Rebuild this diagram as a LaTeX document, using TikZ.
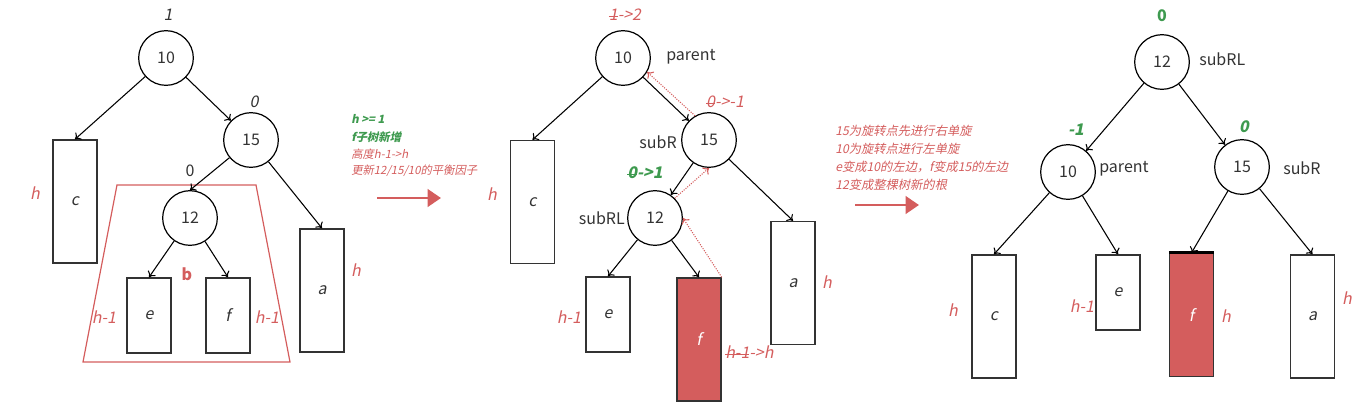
\documentclass[tikz,border=0pt]{standalone}
\usepackage{fontspec}
\setmainfont{Noto Sans CJK SC}
\newfontfamily\itf[FakeSlant=0.2]{Noto Sans CJK SC}
\usetikzlibrary{arrows.meta}
\newcommand\stk[1]{\setbox0\hbox{#1}\rlap{\rule[0.42ex]{\wd0}{0.7pt}}\box0}
\definecolor{myred}{HTML}{D45D5D}
\definecolor{mygreen}{HTML}{3E9A4F}
\definecolor{ink}{HTML}{333333}
\tikzset{
  num/.style={circle, draw=black, line width=0.9pt, minimum size=41pt, inner sep=0pt, text=ink, font=\fontsize{12}{14}\selectfont},
  sub/.style={draw=ink, line width=1.1pt, minimum width=33pt, inner sep=0pt, text=ink, font=\itf\fontsize{12}{14}\selectfont},
  tall/.style={sub, minimum height=92.25pt},
  short/.style={sub, minimum height=56.25pt},
  tallred/.style={tall, fill=myred, text=white},
  lbl/.style={text=myred, inner sep=0pt, font=\itf\fontsize{12}{14}\selectfont},
  bal/.style={text=ink, inner sep=0pt, font=\itf\fontsize{12}{14}\selectfont},
  gbal/.style={text=mygreen, inner sep=0pt, font=\itf\bfseries\fontsize{12}{14}\selectfont},
  tag/.style={text=ink, inner sep=0pt, font=\fontsize{12}{14}\selectfont},
  lnk/.style={-{To[length=4pt,width=7pt]}, line width=0.8pt, black},
  dotarr/.style={-{To[length=4pt,width=7pt]}, line width=0.8pt, myred, densely dotted},
  big/.style={-{Triangle[length=10pt,width=13pt]}, line width=2.2pt, myred},
  note/.style={anchor=west, inner sep=0pt, font=\itf\fontsize{8.5}{10}\selectfont},
  rnote/.style={anchor=west, inner sep=0pt, text=myred, font=\itf\fontsize{9.2}{11}\selectfont}
}
\begin{document}
\begin{tikzpicture}[x=0.75pt,y=-0.75pt]
\useasboundingbox (0,0) rectangle (1362,408);
% ---------- left panel ----------
\draw[myred, line width=0.9pt] (117,185) -- (256,185) -- (290,362) -- (83,362) -- cycle;
\node[num] (L10) at (166,58) {10};
\node[num] (L15) at (251,140) {15};
\node[num] (L12) at (190,218) {12};
\node[tall] (Lc) at (75,201.5) {c};
\node[short] (Le) at (149,315.5) {e};
\node[short] (Lf) at (228,315.5) {f};
\node[tall] (La) at (322,290.5) {a};
\node[bal] (Lb10) at (168,15) {1};
\node[bal] (Lb15) at (254,102) {0};
\node[tag] (Lb12) at (190,171) {0};
\node[text=myred, inner sep=0pt, font=\bfseries\fontsize{12}{14}\selectfont] (Lbb) at (187,274) {b};
\node[lbl] (Lhc) at (35,193) {h};
\node[lbl] (Lhe) at (104,317) {h-1};
\node[lbl] (Lhf) at (267,317) {h-1};
\node[lbl] (Lha) at (356,270) {h};
\draw[lnk] (L10) -- (Lc.north);
\draw[lnk] (L10) -- (L15);
\draw[lnk] (L15) -- (L12.north);
\draw[lnk] (L15) -- (La.north);
\draw[lnk] (L12) -- (Le.north);
\draw[lnk] (L12) -- (Lf.north);
% ---------- first note ----------
\node[note, text=mygreen, font=\itf\bfseries\fontsize{8.5}{10}\selectfont] (n1) at (351,119) {h >= 1};
\node[note, text=mygreen, font=\itf\bfseries\fontsize{8.5}{10}\selectfont] (n2) at (351,137) {f子树新增};
\node[note, text=myred] (n3) at (351,154) {高度h-1->h};
\node[note, text=myred] (n4) at (351,171) {更新12/15/10的平衡因子};
\coordinate (A1s) at (377,198);
\coordinate (A1e) at (441,198);
\draw[big] (A1s) -- (A1e);
% ---------- middle panel ----------
\node[num] (M10) at (623,58) {10};
\node[num] (M15) at (709,140) {15};
\node[num] (M12) at (655,218) {12};
\node[tall] (Mc) at (532.5,202) {c};
\node[short] (Me) at (608,314.5) {e};
\node[tallred] (Mf) at (699,339.5) {f};
\node[tall] (Ma) at (793,283) {a};
\node[tag, anchor=west] (Mpar) at (666,57) {parent};
\node[tag, anchor=east] (Msr) at (677,142) {subR};
\node[tag, anchor=east] (Msrl) at (625,218) {subRL};
\node[lbl] (Mb10) at (625,15) {\stk{1}->2};
\node[lbl] (Mb15) at (725,102) {\stk{0}->-1};
\node[gbal] (Mb12) at (645,173) {\stk{0}->1};
\node[lbl] (Mhc) at (492,194) {h};
\node[lbl] (Mhe) at (569,317) {h-1};
\node[lbl, anchor=west] (Mhf) at (725,352) {\stk{h-1}->h};
\node[lbl] (Mha) at (827,282) {h};
\draw[lnk] (M10) -- (Mc.north);
\draw[lnk] (M10) -- (M15);
\draw[lnk] (M15) -- (M12);
\draw[lnk] (M15) -- (Ma.north);
\draw[lnk] (M12) -- (Me.north);
\draw[lnk] (M12) -- (Mf.north);
\draw[dotarr] (Mf.north east) -- (M12.east);
\draw[dotarr] (M12.north east) -- (M15.south);
\draw[dotarr] (M15.120) -- (M10.-30);
% ---------- second note ----------
\node[rnote] (r1) at (835,131) {15为旋转点先进行右单旋};
\node[rnote] (r2) at (835,149) {10为旋转点进行左单旋};
\node[rnote] (r3) at (835,167) {e变成10的左边，f变成15的左边};
\node[rnote] (r4) at (835,185) {12变成整棵树新的根};
\coordinate (A2s) at (855,205);
\coordinate (A2e) at (919,205);
\draw[big] (A2s) -- (A2e);
% ---------- right panel ----------
\node[num] (R12) at (1162,62) {12};
\node[num] (R10) at (1068,172) {10};
\node[num] (R15) at (1242,167) {15};
\node[tall] (Rc) at (994,316.5) {c};
\node[short] (Re) at (1118,292.5) {e};
\node[tallred] (Rf) at (1191.5,315) {f};
\node[tall] (Ra) at (1312.5,316.5) {a};
\draw[line width=2pt] (Rf.north west) -- (Rf.north east);
\node[text=mygreen, inner sep=0pt, font=\bfseries\fontsize{12}{14}\selectfont] (Rb12) at (1162,16) {0};
\node[gbal] (Rb10) at (1076,130) {-1};
\node[gbal] (Rb15) at (1244,127) {0};
\node[tag, anchor=west] (Rsrl) at (1199,59) {subRL};
\node[tag, anchor=west] (Rpar) at (1099,169) {parent};
\node[tag, anchor=west] (Rsr) at (1283,168) {subR};
\node[lbl] (Rhc) at (953,310) {h};
\node[lbl] (Rhe) at (1082,306) {h-1};
\node[lbl] (Rhf) at (1226,316) {h};
\node[lbl] (Rha) at (1347,298) {h};
\draw[lnk] (R12) -- (R10);
\draw[lnk] (R12) -- (R15);
\draw[lnk] (R10) -- (Rc.north);
\draw[lnk] (R10) -- (Re.north);
\draw[lnk] (R15) -- (Rf.north);
\draw[lnk] (R15) -- (Ra.north);
\end{tikzpicture}
\end{document}
